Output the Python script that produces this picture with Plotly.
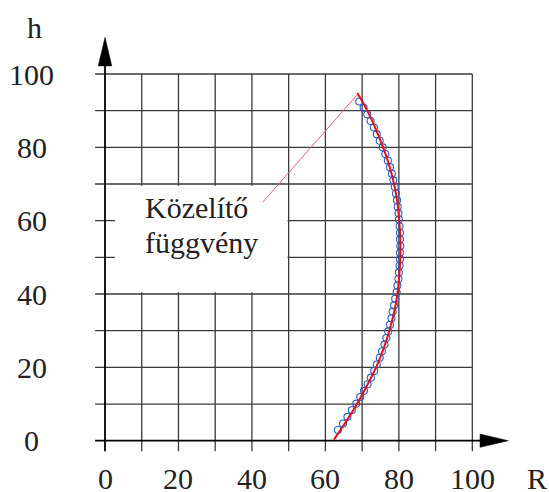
import plotly.graph_objects as go

# Measured profile: radius R versus height h (open circles)
meas_h = [2.9, 4.7, 6.5, 8.3, 10.1, 11.9, 13.6, 15.4, 17.2, 19.0, 20.8, 22.6, 24.4,
          26.2, 28.0, 29.8, 31.6, 33.4, 35.2, 36.9, 38.7, 40.5, 42.3, 44.1, 45.9,
          47.7, 49.5, 51.3, 53.1, 54.9, 56.7, 58.5, 60.3, 62.0, 63.8, 65.6, 67.4,
          69.2, 71.0, 72.8, 74.6, 76.4, 78.2, 80.0, 81.8, 83.6, 85.4, 87.2, 89.0,
          90.8, 92.5]
meas_R = [63.4, 64.8, 66.0, 67.2, 68.4, 69.5, 70.5, 71.5, 72.4, 73.3, 74.0, 74.8, 75.4,
          76.1, 76.6, 77.1, 77.6, 78.0, 78.3, 78.7, 79.0, 79.4, 79.6, 79.9, 80.0,
          80.2, 80.3, 80.3, 80.4, 80.3, 80.3, 80.2, 80.0, 79.9, 79.7, 79.5, 79.2,
          78.9, 78.5, 78.1, 77.6, 77.0, 76.3, 75.6, 74.8, 74.0, 73.2, 72.3, 71.4,
          70.4, 69.2]

# Approximating function (red curve)
fit_h = [0.3, 5, 10, 15, 20, 25, 30, 35, 40, 45, 50, 55, 60, 65, 70, 75, 80, 85, 90, 94.8]
fit_R = [62.3, 65.5, 68.6, 71.3, 73.8, 75.8, 77.4, 78.7, 79.6, 80.1, 80.4, 80.4, 80.1,
         79.6, 78.7, 77.4, 75.7, 73.7, 71.4, 68.7]

x_ticks = [0, 20, 40, 60, 80, 100]
y_ticks = [0, 20, 40, 60, 80, 100]
grid_steps = [10, 20, 30, 40, 50, 60, 70, 80, 90, 100]

FONT = "Liberation Serif"
GRID = "#3a3a3a"

fig = go.Figure()

fig.add_trace(go.Scatter(
    x=meas_R, y=meas_h, mode="markers",
    marker=dict(symbol="circle-open", size=7, color="#2a5fc4", line=dict(width=1.1)),
    showlegend=False, hoverinfo="skip"))

fig.add_trace(go.Scatter(
    x=fit_R, y=fit_h, mode="lines", line=dict(color="#e3101e", width=2, shape="spline"),
    showlegend=False, hoverinfo="skip"))

shapes = []
# grid
for v in grid_steps:
    shapes.append(dict(type="line", xref="x", yref="y", x0=v, x1=v, y0=-2.9, y1=100,
                       line=dict(color=GRID, width=1.3), layer="below"))
    shapes.append(dict(type="line", xref="x", yref="y", x0=-2.7, x1=100, y0=v, y1=v,
                       line=dict(color=GRID, width=1.3), layer="below"))
# white label box over the grid
shapes.append(dict(type="rect", xref="x", yref="y", x0=2.7, x1=49.7, y0=40.5, y1=69.5,
                   fillcolor="white", line=dict(width=0), layer="below"))
# axes with arrowheads
shapes.append(dict(type="line", xref="x", yref="y", x0=0, x1=0, y0=-2.9, y1=103,
                   line=dict(color="black", width=1.8), layer="below"))
shapes.append(dict(type="line", xref="x", yref="y", x0=-2.7, x1=103, y0=0, y1=0,
                   line=dict(color="black", width=1.8), layer="below"))
shapes.append(dict(type="path", xref="x", yref="y",
                   path="M -1.85 102.2 L 0 110.0 L 1.85 102.2 Z",
                   fillcolor="black", line=dict(color="black", width=0.5)))
shapes.append(dict(type="path", xref="x", yref="y",
                   path="M 102.1 -1.82 L 109.8 0 L 102.1 1.82 Z",
                   fillcolor="black", line=dict(color="black", width=0.5)))
# leader line from the label to the curve
shapes.append(dict(type="line", xref="x", yref="y", x0=43.0, y0=65.1, x1=68.6, y1=94.3,
                   line=dict(color="#e8607a", width=1)))


def label(x, y, text, anchor="center"):
    return dict(x=x, y=y, xref="x", yref="y", text=text, showarrow=False,
                font=dict(family=FONT, size=30, color="#222"),
                xanchor=anchor, yanchor="middle")


annotations = [label(t, -10.4, str(t)) for t in x_ticks]
annotations += [label(-19.9, t, str(t)) for t in y_ticks]
annotations.append(label(117.6, -10.4, "R"))
annotations.append(label(-19.3, 112.8, "h"))
annotations.append(label(10.35, 63.7, "Közelítő", "left"))
annotations.append(label(10.35, 54.0, "függvény", "left"))

fig.update_layout(
    width=549, height=492,
    margin=dict(l=0, r=0, t=0, b=0),
    font=dict(family=FONT, size=30, color="#222"),
    paper_bgcolor="white", plot_bgcolor="white",
    xaxis=dict(range=[-28.59, 120.88], visible=False, fixedrange=True),
    yaxis=dict(range=[-13.99, 120.18], visible=False, fixedrange=True),
    shapes=shapes, annotations=annotations,
)

fig.write_html("out.html")
